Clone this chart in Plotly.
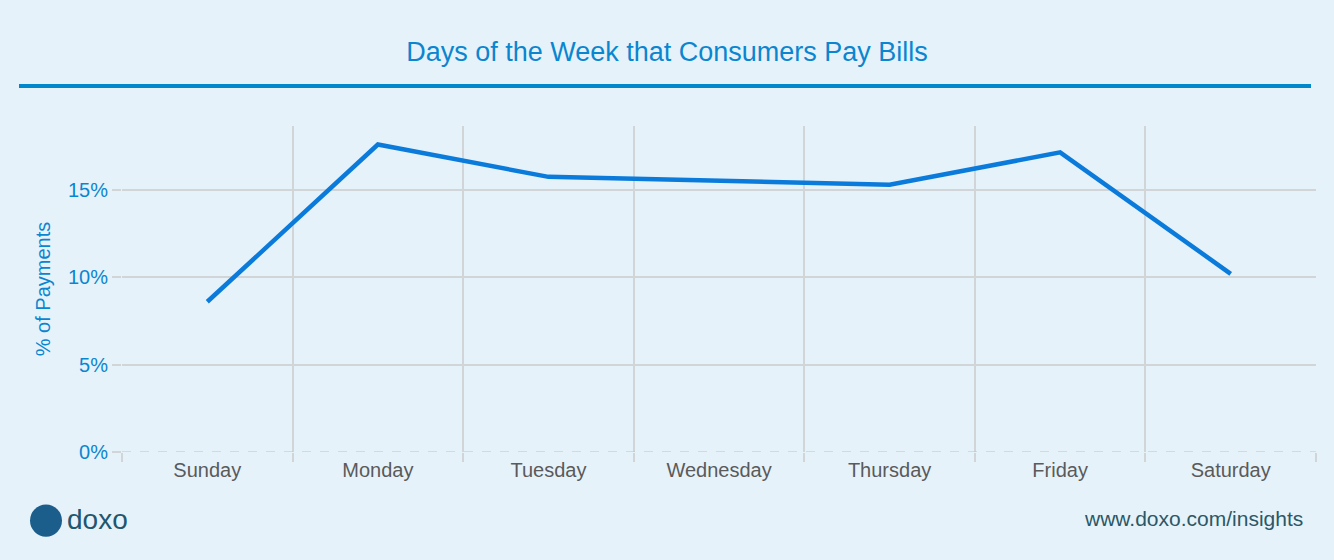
import plotly.graph_objects as go

days = ["Sunday", "Monday", "Tuesday", "Wednesday", "Thursday", "Friday", "Saturday"]
pct_payments = [8.6, 17.6, 15.75, 15.5, 15.3, 17.15, 10.2]
y_ticks = [0, 5, 10, 15]
y_tick_labels = ["0%", "5%", "10%", "15%"]

BG = "#E6F2FA"
BLUE = "#0A86D0"
GRID = "#D2D5D8"
FONT = "Liberation Sans, Arial, sans-serif"

fig = go.Figure()
fig.add_trace(go.Scatter(
    x=days, y=pct_payments, mode="lines",
    line=dict(color="#0A7BDB", width=4.5),
    hoverinfo="skip", showlegend=False,
))

fig.update_layout(
    width=1334, height=560,
    paper_bgcolor=BG, plot_bgcolor=BG,
    margin=dict(l=122, r=18, t=126, b=108),
    font=dict(family=FONT),
    title=dict(text="Days of the Week that Consumers Pay Bills",
               x=0.5, xanchor="center", y=1 - 52 / 560, yanchor="middle",
               font=dict(size=27, color=BLUE, family=FONT)),
    xaxis=dict(type="category", tickson="boundaries", showgrid=True,
               gridcolor=GRID, gridwidth=1.5, ticks="outside", ticklen=9,
               tickcolor=GRID, tickwidth=1.5, showline=False, zeroline=False,
               ticklabelstandoff=4,
               tickfont=dict(size=20, color="#5A5A5A", family=FONT),
               range=[-0.5, 6.5]),
    yaxis=dict(range=[0, 18.66], tickvals=y_ticks, ticktext=y_tick_labels,
               showgrid=True, gridcolor=GRID, gridwidth=1.5,
               ticks="outside", ticklen=9, tickcolor=GRID, tickwidth=1.5,
               zeroline=False, showline=False,
               tickfont=dict(size=20, color=BLUE, family=FONT),
               title=dict(text="% of Payments", standoff=11,
                          font=dict(size=20, color=BLUE, family=FONT))),
)

# dashed baseline at 0
fig.add_shape(type="line", xref="paper", yref="y", x0=0, x1=1, y0=0, y1=0,
              line=dict(color="#BCC1C6", width=1.2, dash="dash"), layer="above")
# blue rule under the title
fig.add_shape(type="line", xref="paper", yref="paper",
              x0=(19 - 122) / 1194, x1=(1311 - 122) / 1194,
              y0=(451.5 - 86) / 325.5, y1=(451.5 - 86) / 325.5,
              line=dict(color="#0088CC", width=4))
# logo circle
fig.add_shape(type="circle", xref="paper", yref="paper",
              x0=(30 - 122) / 1194, x1=(62 - 122) / 1194,
              y0=(451.5 - 536) / 325.5, y1=(451.5 - 504) / 325.5,
              fillcolor="#1B5E8C", line=dict(width=0))
fig.add_annotation(text="doxo", xref="paper", yref="paper",
                   x=(65 - 122) / 1194, y=(451.5 - 519) / 325.5,
                   xanchor="left", yanchor="middle", showarrow=False,
                   font=dict(size=28, color="#1F5670", family=FONT))
fig.add_annotation(text="www.doxo.com/insights", xref="paper", yref="paper",
                   x=(1305 - 122) / 1194, y=(451.5 - 518) / 325.5,
                   xanchor="right", yanchor="middle", showarrow=False,
                   font=dict(size=21, color="#2B5866", family=FONT))

fig.write_html("out.html", config={"displayModeBar": False},
               post_script="document.body.style.margin='0';")
